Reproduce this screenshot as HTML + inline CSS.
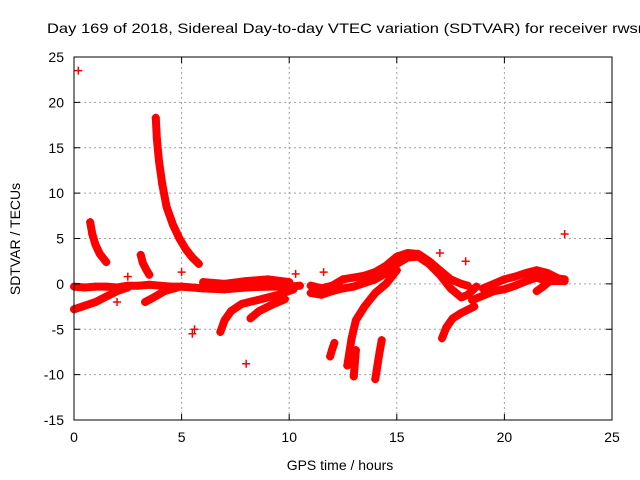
<!DOCTYPE html>
<html><head><meta charset="utf-8"><style>
html,body{margin:0;padding:0;background:#fff;}
svg{display:block;font-family:"Liberation Sans",sans-serif;}
</style></head><body>
<svg id="chart" width="640" height="480">
<text x="47" y="33" font-size="14" textLength="600" lengthAdjust="spacingAndGlyphs">Day 169 of 2018, Sidereal Day-to-day VTEC variation (SDTVAR) for receiver rwsn</text>
<text x="340" y="470" font-size="14" text-anchor="middle">GPS time / hours</text>
<text transform="translate(20,239) rotate(-90)" font-size="14" text-anchor="middle">SDTVAR / TECUs</text>
<g id="grid"></g><g id="marks"></g><g id="axes"></g>
</svg>
<script>
const xTicks=[0,5,10,15,20,25];
const yTicks=[-15,-10,-5,0,5,10,15,20,25];
const s1x=[0,0.5,1,1.5,2,2.5,3,3.5,4,4.5,5,5.5,6,7,8,9,10,10.5];
const s1y=[-0.3,-0.4,-0.3,-0.3,-0.4,-0.2,-0.2,-0.1,-0.2,-0.3,-0.3,-0.4,-0.5,-0.6,-0.4,-0.3,-0.3,-0.2];
const s2x=[0,0.5,1,1.5,2,2.5];
const s2y=[-2.8,-2.4,-2.0,-1.4,-0.8,-0.4];
const s3x=[0.75,0.85,1.0,1.2,1.5];
const s3y=[6.8,5.5,4.3,3.3,2.4];
const s4x=[3.8,3.85,3.95,4.1,4.3,4.6,4.9,5.2,5.5,5.8];
const s4y=[18.3,16,13.5,11,8.5,6.5,5,3.8,2.9,2.2];
const s5x=[3.1,3.2,3.35,3.5];
const s5y=[3.2,2.3,1.6,1.0];
const s6x=[3.3,3.7,4.2,4.8];
const s6y=[-2,-1.5,-0.8,-0.4];
const s7x=[6.8,7.0,7.3,7.8,8.5,9.5,10.2];
const s7y=[-5.3,-4,-3,-2.2,-1.8,-1.2,-0.6];
const s8x=[8.2,8.6,9.2,9.8];
const s8y=[-3.8,-3,-2.3,-1.7];
const s9x=[6,7,8,9,10];
const s9y=[0.2,0,0.3,0.5,0.2];
const s10x=[11,11.5,12,12.5,13,13.5,14,14.5,15,15.5,16,16.5,17,17.5,18,18.3];
const s10y=[-0.2,-0.5,-0.2,0.5,0.7,0.9,1.3,2,3,3.4,3.3,2.5,1.5,0.5,0,-0.2];
const s11x=[11,11.5,12,12.5,13,13.5,14,14.5,15,15.5,16,16.5,17,17.5,18,18.3,18.7];
const s11y=[-1,-1.2,-0.8,-0.5,-0.3,0.1,0.5,1.2,2.2,2.9,3,2.2,1.0,-0.5,-1.5,-1.2,-0.3];
const s12x=[15.0,14.5,14,13.5,13.1,12.9,12.8,12.7];
const s12y=[1.5,0,-1,-2.5,-4,-6,-7.5,-9];
const s13x=[11.9,12.0,12.1];
const s13y=[-8,-7.2,-6.5];
const s14x=[13.0,13.05,13.1];
const s14y=[-10.2,-8.7,-7.3];
const s15x=[14.0,14.1,14.2,14.3];
const s15y=[-10.5,-9,-7.5,-6.2];
const s16x=[17.1,17.3,17.6,18.0,18.6];
const s16y=[-6,-4.8,-3.8,-3.2,-2.5];
const s17x=[19,19.5,20,20.5,21,21.5,22,22.5,22.8];
const s17y=[-0.5,0,0.5,0.8,1.2,1.5,1.2,0.6,0.5];
const s18x=[18.5,19,19.5,20,20.5,21,21.5,22,22.8];
const s18y=[-1.8,-1.3,-0.8,-0.6,-0.2,0.3,0.7,0.3,0.3];
const s19x=[21.5,21.8,22.1];
const s19y=[-0.8,-0.3,0.3];
const isoX=[0.2,22.8,10.3,5.0,5.5,8.0,2.0,2.5,17.0,18.2,11.6,5.6];
const isoY=[23.5,5.5,1.1,1.3,-5.5,-8.8,-2.0,0.8,3.4,2.5,1.3,-5.0];
const series=[[s1x,s1y],[s2x,s2y],[s3x,s3y],[s4x,s4y],[s5x,s5y],[s6x,s6y],[s7x,s7y],[s8x,s8y],[s9x,s9y],[s10x,s10y],[s11x,s11y],[s12x,s12y],[s13x,s13y],[s14x,s14y],[s15x,s15y],[s16x,s16y],[s17x,s17y],[s18x,s18y],[s19x,s19y]];
const L=74,R=612,T=57,B=420;
function xs(v){return L+(v-0)/(25-0)*(R-L);}
function ys(v){return B-(v+15)/(40)*(B-T);}
const NS='http://www.w3.org/2000/svg';
function mk(tag,attrs,parent){const e=document.createElementNS(NS,tag);for(const k in attrs)e.setAttribute(k,attrs[k]);parent.appendChild(e);return e;}
const grid=document.getElementById('grid'),axes=document.getElementById('axes'),marks=document.getElementById('marks');
xTicks.forEach(t=>{const x=xs(t);
 if(t>0&&t<25){const g=mk('line',{x1:x,y1:T,x2:x,y2:B,stroke:'#a0a0a0','stroke-dasharray':'2,3','stroke-width':1},grid);
 
 }
 mk('line',{x1:x,y1:B,x2:x,y2:B-6,stroke:'#000'},axes);mk('line',{x1:x,y1:T,x2:x,y2:T+6,stroke:'#000'},axes);
 const tx=mk('text',{x:x,y:B+22,'font-size':14,'text-anchor':'middle'},axes);tx.textContent=t;
 
 });
yTicks.forEach(t=>{const y=ys(t);
 if(t>-15&&t<25){const g=mk('line',{x1:L,y1:y,x2:R,y2:y,stroke:'#a0a0a0','stroke-dasharray':'2,3','stroke-width':1},grid);
 
 }
 mk('line',{x1:L,y1:y,x2:L+6,y2:y,stroke:'#000'},axes);mk('line',{x1:R,y1:y,x2:R-6,y2:y,stroke:'#000'},axes);
 const tx=mk('text',{x:L-10,y:y+5,'font-size':14,'text-anchor':'end'},axes);tx.textContent=t;
 
 });
const frame=mk('rect',{x:L,y:T,width:R-L,height:B-T,fill:'none',stroke:'#000','stroke-width':1},axes);


function plus(x,y,p){mk('path',{d:`M${x-4},${y}h8M${x},${y-4}v8`,stroke:'#f00','stroke-width':1.5},p);}
series.forEach(([xa,ya])=>{
 const g=mk('g',{},marks);
 
 
 const pts=xa.map((v,i)=>xs(v)+','+ys(ya[i])).join(' ');
 mk('polyline',{points:pts,fill:'none',stroke:'#f00','stroke-width':8,'stroke-linejoin':'round','stroke-linecap':'round'},g);
 xa.forEach((v,i)=>plus(xs(v),ys(ya[i]),g));
});
isoX.forEach((v,i)=>{const g=mk('g',{},marks);
 
 
 plus(xs(v),ys(isoY[i]),g);});
</script>
</body></html>
